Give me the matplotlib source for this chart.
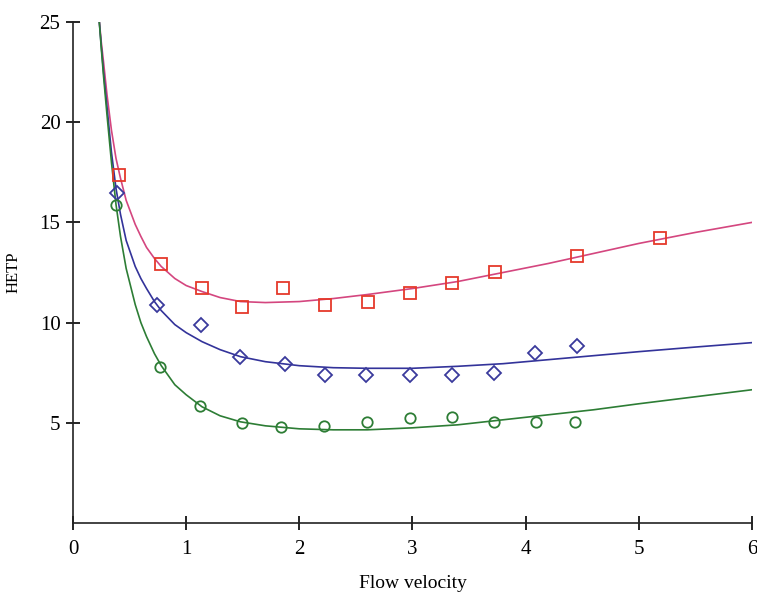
import matplotlib
matplotlib.use("Agg")
import matplotlib.pyplot as plt

plt.rcParams['font.family'] = ['Liberation Serif', 'DejaVu Serif']

# Measured HETP points
red_u = [0.41, 0.78, 1.14, 1.49, 1.86, 2.23, 2.61, 2.98, 3.35, 3.73, 4.45, 5.19]
red_h = [17.35, 12.9, 11.75, 10.8, 11.75, 10.9, 11.05, 11.5, 12.0, 12.5, 13.3, 14.2]

blue_u = [0.39, 0.74, 1.13, 1.48, 1.87, 2.23, 2.59, 2.98, 3.35, 3.72, 4.08, 4.45]
blue_h = [16.45, 10.9, 9.9, 8.3, 7.95, 7.4, 7.4, 7.4, 7.4, 7.5, 8.5, 8.85]

green_u = [0.38, 0.77, 1.12, 1.49, 1.84, 2.22, 2.60, 2.98, 3.35, 3.72, 4.09, 4.44]
green_h = [15.85, 7.8, 5.85, 5.0, 4.8, 4.85, 5.05, 5.25, 5.3, 5.05, 5.05, 5.05]

# Fitted curves
curve_u = [0.23, 0.25, 0.27, 0.30, 0.34, 0.38, 0.42, 0.47, 0.55, 0.60, 0.65, 0.72,
           0.78, 0.90, 1.00, 1.14, 1.30, 1.48, 1.70, 2.00, 2.30, 2.60, 3.00,
           3.40, 3.80, 4.20, 4.60, 5.00, 5.50, 6.00]
red_fit = [25.2, 24.0, 23.0, 21.4, 19.6, 18.2, 17.2, 16.1, 14.9, 14.3, 13.75, 13.2,
           12.8, 12.2, 11.85, 11.55, 11.25, 11.05, 11.0, 11.05, 11.2, 11.4, 11.7,
           12.05, 12.5, 12.95, 13.45, 13.95, 14.5, 15.0]
blue_fit = [25.2, 23.8, 22.5, 20.8, 18.5, 16.7, 15.4, 14.1, 12.8, 12.2, 11.7, 11.05,
            10.6, 9.9, 9.5, 9.05, 8.65, 8.3, 8.05, 7.85, 7.75, 7.72, 7.72,
            7.82, 7.95, 8.15, 8.35, 8.55, 8.78, 9.0]
green_fit = [25.2, 23.7, 22.3, 20.4, 18.0, 15.9, 14.3, 12.7, 10.9, 10.0, 9.3, 8.45,
             7.85, 6.9, 6.4, 5.8, 5.35, 5.05, 4.85, 4.7, 4.65, 4.65, 4.75,
             4.9, 5.15, 5.4, 5.65, 5.95, 6.3, 6.65]

x_ticks = [0, 1, 2, 3, 4, 5, 6]
y_ticks = [5, 10, 15, 20, 25]

fig = plt.figure(figsize=(7.57, 5.94), dpi=100)
ax = fig.add_axes([0.0964, 0.1195, 0.897, 0.8435])

ax.plot(curve_u, red_fit, color='#d4467f', lw=1.2)
ax.plot(curve_u, blue_fit, color='#33339a', lw=1.2)
ax.plot(curve_u, green_fit, color='#2d7d35', lw=1.2)

ax.plot(red_u, red_h, ls='none', marker='s', ms=8.5, mfc='none',
        mec='#e5392b', mew=1.3)
ax.plot(blue_u, blue_h, ls='none', marker='D', ms=7, mfc='none',
        mec='#3a3a9c', mew=1.3)
ax.plot(green_u, green_h, ls='none', marker='o', ms=7.5, mfc='none',
        mec='#2d7d35', mew=1.3)

ax.set_xlim(0, 6)
ax.set_ylim(0, 25)
ax.set_xticks(x_ticks)
ax.set_yticks(y_ticks)
ax.tick_params(direction='inout', length=10, width=1.2, labelsize=15)
ax.tick_params(axis='x', pad=7)
ax.tick_params(axis='y', pad=4)
for s in ('top', 'right'):
    ax.spines[s].set_visible(False)
for s in ('left', 'bottom'):
    ax.spines[s].set_linewidth(1.2)
    ax.spines[s].set_color('#222222')

ax.set_xlabel('Flow velocity', fontsize=14, labelpad=12)
ax.set_ylabel('HETP', fontsize=12, labelpad=13)

fig.savefig('out.png', dpi=100)
